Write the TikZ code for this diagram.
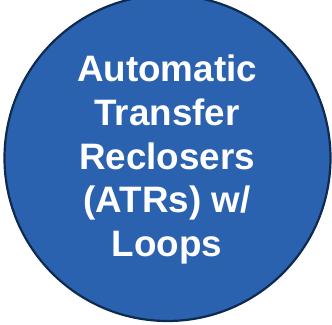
\documentclass[tikz,border=0pt]{standalone}
\usepackage{fontspec}
\setmainfont{Liberation Sans}
\definecolor{discblue}{HTML}{2A62B0}
\definecolor{discrim}{HTML}{0F2A4F}
\begin{document}
\begin{tikzpicture}[x=1pt,y=1pt,
  caption/.style={text=white,font=\fontsize{36.8}{44}\selectfont\bfseries,anchor=base,inner sep=0pt}]
  \useasboundingbox (0,0) rectangle (332,324);
  \clip (0,0) rectangle (332,324);
  % the disc, cut by the top edge of the page
  \node[circle,minimum size=326,fill=discblue,draw=discrim,line width=2.2,inner sep=0pt] (disc) at (167.5,166) {};
  % caption, one line per node
  \node[caption] (l1) at (167,242) {Automatic};
  \node[caption] (l2) at (167,198) {Transfer};
  \node[caption] (l3) at (167,154) {Reclosers};
  \node[caption] (l4) at (167,111) {(ATRs) w/};
  \node[caption] (l5) at (167,67) {Loops};
\end{tikzpicture}
\end{document}
